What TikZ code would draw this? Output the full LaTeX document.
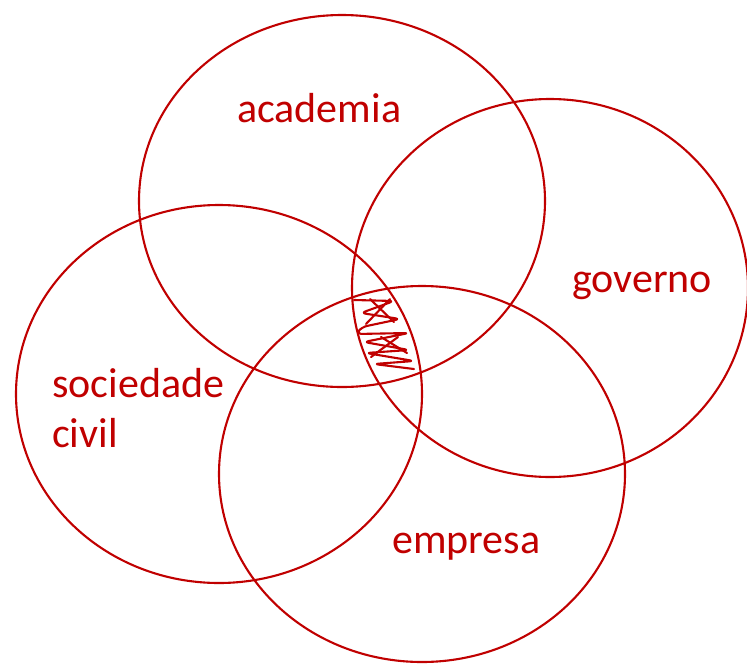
\documentclass[tikz,border=0pt]{standalone}
\usepackage{fontspec}
\setmainfont{Carlito}
\definecolor{vred}{HTML}{C00000}
\begin{document}
\begin{tikzpicture}[x=1pt,y=-1pt,
  circ/.style={draw=vred,line width=2.1pt},
  lbl/.style={text=vred,anchor=base west,inner sep=0pt,font=\fontsize{42}{50}\selectfont},
  scrib/.style={draw=vred,line width=2.1pt,rounded corners=5pt,line join=round,line cap=round}]
\useasboundingbox (0,0) rectangle (747,664);
\draw[circ] (342,201) ellipse [x radius=203,y radius=186];
\draw[circ] (550,288) ellipse [x radius=198,y radius=189];
\draw[circ] (219,394) ellipse [x radius=203,y radius=189];
\draw[circ] (422,474) ellipse [x radius=203,y radius=188];
\node[lbl] (acad) at (237,122) {academia};
\node[lbl] (gov) at (572,292) {governo};
\node[lbl] (soc) at (52,397) {sociedade};
\node[lbl] (civ) at (52,447) {civil};
\node[lbl] (emp) at (392,553) {empresa};
\draw[scrib] (354,300) -- (394,301) -- (361,313) -- (400,319) -- (362,327) -- (356,334) -- (409,333) -- (364,342) -- (409,350) -- (366,353) -- (414,361) -- (374,364) -- (414,369);
\draw[scrib] (370,299) -- (394,322);
\draw[scrib] (390,299) -- (366,324);
\draw[scrib] (381,337) -- (407,353);
\draw[scrib] (398,337) -- (371,357);
\end{tikzpicture}
\end{document}
